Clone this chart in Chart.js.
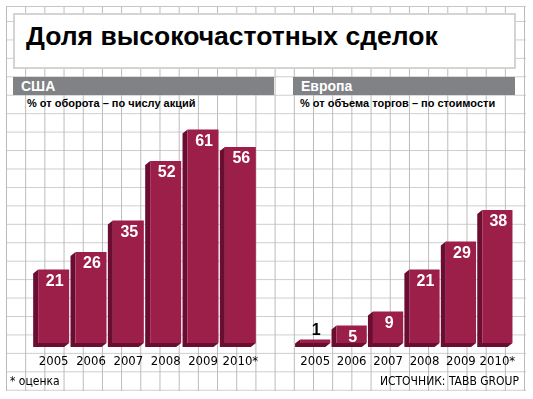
<!DOCTYPE html>
<html>
<head>
<meta charset="utf-8">
<script src="https://cdn.jsdelivr.net/npm/chart.js@4/dist/chart.umd.min.js"></script>
<style>
  body { margin: 0; width: 533px; height: 399px; background: #fff; position: relative; overflow: hidden; font-family: 'Liberation Sans', Arial, sans-serif; }
  #grid { position: absolute; left: 6px; top: 6px; width: 520px; height: 385px;
    background-image:
      linear-gradient(#c6c6c6, #c6c6c6),
      linear-gradient(to right, #b9b9b9 1px, transparent 1px),
      linear-gradient(to bottom, #cdcdcd 1px, transparent 1px);
    background-size: 100% 1px, 19.2px 100%, 100% 18.45px;
    background-position: 0 0, 0 0, 0 15px;
    background-repeat: no-repeat, repeat-x, repeat-y; }
  #titlebox { position: absolute; left: 13px; top: 13px; width: 503px; height: 56px; background: #fff; border: 2px solid #d4d4d4; box-sizing: border-box; }
  #title { position: absolute; left: 26px; top: 21px; font-size: 26.5px; font-weight: bold; color: #000; white-space: nowrap; }
  .hdr { position: absolute; top: 77px; height: 18px; background: #808285; color: #fff; font-weight: bold; font-size: 14px; line-height: 18px; padding-left: 8px; box-sizing: border-box; }
  .sub { position: absolute; top: 97px; font-size: 11px; font-weight: bold; color: #000; white-space: nowrap; }
  .wrap { position: absolute; top: 110px; height: 265px; }
  .note { position: absolute; top: 374px; font-family: 'Liberation Sans Narrow', 'DejaVu Sans Condensed', sans-serif; font-size: 12px; color: #000; white-space: nowrap; }
</style>
</head>
<body>
<div id="grid"></div>
<div id="titlebox"></div>
<div id="title">Доля высокочастотных сделок</div>
<div class="hdr" style="left:13px;width:261px;">США</div>
<div class="hdr" style="left:293px;width:222px;">Европа</div>
<div class="sub" style="left:27px;">% от оборота – по числу акций</div>
<div class="sub" style="left:300px;">% от объема торгов – по стоимости</div>
<div class="wrap" style="left:25px;width:245px;"><canvas id="us-canvas"></canvas></div>
<div class="wrap" style="left:287px;width:240px;"><canvas id="eu-canvas"></canvas></div>
<div class="note" style="left:10px;">* оценка</div>
<div class="note" style="right:14px;">ИСТОЧНИК: TABB GROUP</div>
<script>
const years = ['2005', '2006', '2007', '2008', '2009', '2010*'];
const usValues = [21, 26, 35, 52, 61, 56];
const euValues = [1, 5, 9, 21, 29, 38];

const FRONT = '#9c1f4a';
const SIDE = '#6b0c31';
const DX = 5, DY = 4;

// dark left + bottom faces drawn behind each bar
const extrude = {
    id: 'extrude',
    beforeDatasetsDraw(chart) {
        const ctx = chart.ctx;
        chart.getDatasetMeta(0).data.forEach(bar => {
            const L = bar.x - bar.width / 2, R = bar.x + bar.width / 2;
            const top = bar.y, base = bar.base;
            ctx.save();
            ctx.fillStyle = SIDE;
            ctx.beginPath();
            ctx.moveTo(L, top);
            ctx.lineTo(L - DX, top + DY);
            ctx.lineTo(L - DX, base + DY);
            ctx.lineTo(R - DX, base + DY);
            ctx.lineTo(R, base);
            ctx.lineTo(L, base);
            ctx.closePath();
            ctx.fill();
            ctx.restore();
        });
    }
};

const valueLabels = {
    id: 'valueLabels',
    afterDatasetsDraw(chart) {
        const ctx = chart.ctx;
        const vals = chart.data.datasets[0].data;
        chart.getDatasetMeta(0).data.forEach((bar, i) => {
            const v = vals[i];
            ctx.save();
            ctx.font = 'bold 16px "Liberation Sans", Arial, sans-serif';
            ctx.textAlign = 'center';
            ctx.textBaseline = 'middle';
            if (v >= 5) {
                ctx.fillStyle = '#fff';
                ctx.fillText(String(v), bar.x + 1, bar.y + 12);
            } else {
                ctx.fillStyle = '#000';
                ctx.fillText(String(v), bar.x + 1, bar.y - 9);
            }
            ctx.restore();
        });
    }
};

function makeConfig(values) {
    return {
        type: 'bar',
        data: {
            labels: years,
            datasets: [{
                data: values,
                backgroundColor: FRONT,
                borderWidth: 0,
                categoryPercentage: 1,
                barPercentage: 0.83
            }]
        },
        options: {
            responsive: true,
            maintainAspectRatio: false,
            animation: false,
            layout: { padding: { top: 5.5, left: 10, right: 10, bottom: 0 } },
            plugins: {
                legend: { display: false },
                tooltip: { enabled: false }
            },
            scales: {
                x: {
                    grid: { display: false, drawTicks: false },
                    border: { display: false },
                    ticks: {
                        color: '#000',
                        padding: 11,
                        maxRotation: 0,
                        minRotation: 0,
                        autoSkip: false,
                        font: { family: "'Liberation Sans Narrow', 'DejaVu Sans Condensed', sans-serif", size: 13 }
                    },
                    afterFit: s => { s.height = 32; }
                },
                y: {
                    display: false,
                    min: 0,
                    max: 65
                }
            }
        },
        plugins: [extrude, valueLabels]
    };
}

const us_chart = new Chart(document.getElementById('us-canvas'), makeConfig(usValues));
const eu_chart = new Chart(document.getElementById('eu-canvas'), makeConfig(euValues));
</script>
</body>
</html>
